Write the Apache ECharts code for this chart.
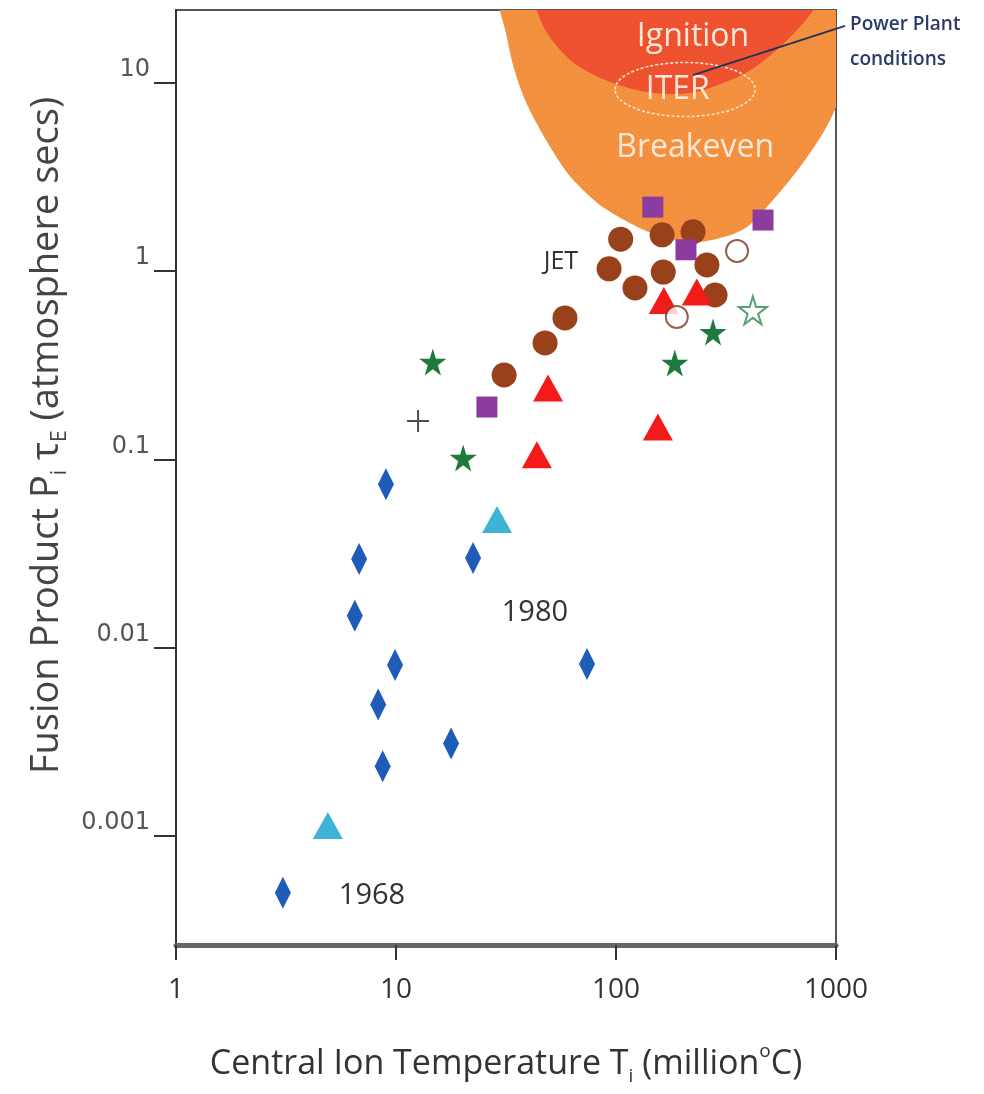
<!DOCTYPE html>
<html><head><meta charset="utf-8">
<script src="https://cdn.jsdelivr.net/npm/echarts@6/dist/echarts.min.js"></script>
<style>html,body{margin:0;padding:0;background:#fff}#c{width:984px;height:1094px}</style>
</head><body><div id="c"></div><script>
// ---- axis ticks ----
const xTicks = [1, 10, 100, 1000];
const xTickLabels = ['1', '10', '100', '1000'];
const yTicks = [0.001, 0.01, 0.1, 1, 10];
const yTickLabels = ['0.001', '0.01', '0.1', '1', '10'];
const yMin = 0.000264, yMax = 24.4;

// ---- data points [T (million C), Pi*tauE (atm s)] ----
const diamonds = [[3.06,0.0005],[9.0,0.074],[6.8,0.0296],[6.5,0.0148],[9.9,0.0081],[8.3,0.0050],[8.7,0.00235],[17.8,0.0031],[22.4,0.030],[73.8,0.0082]];
const cyanTriangles = [[28.8,0.048],[4.9,0.00114]];
const crosses = [[12.6,0.16]];
const stars = [[14.7,0.33],[20.2,0.102],[185,0.326],[276,0.475]];
const openStars = [[419,0.62]];
const circles = [[105,1.48],[162,1.56],[224,1.62],[93,1.03],[164,0.99],[259,1.08],[122,0.815],[282,0.748],[58.6,0.565],[47.6,0.416],[31.0,0.281]];
const redTriangles = [[165,0.70],[233,0.776],[49.1,0.24],[155,0.149],[43.7,0.106]];
const squares = [[147,2.19],[466,1.87],[208,1.30],[25.9,0.19]];
const openCircles = [[355,1.28],[189,0.571]];

// ---- regions (boundary curves) ----
const breakevenBoundary = [[28.0,32],[29.6,24.4],[31.6,18.4],[34.2,12.2],[38.6,8.12],[46.1,5.42],[57.4,3.58],[68.6,2.80],[87.3,2.19],[125,1.72],[164,1.52],[224,1.43],[297,1.50],[394,1.72],[517,2.39],[686,3.58],[873,5.42],[1000,7.4],[1100,9.5]];
const ignitionBoundary = [[39.5,32],[43.5,24.4],[48.6,18.4],[59.9,13.7],[76.2,11.3],[96.9,10.0],[129,9.07],[171,8.74],[217,8.85],[276,9.53],[394,11.4],[517,14.4],[665,19.1],[786,24.4],[860,32]];
const iterCenter = [206, 9.23];
const regionLabels = [['Ignition',224,17.5],['ITER',191,9.19],['Breakeven',229,4.52]];
const textLabels = [['JET',56.2,1.12,25],['1980',42.8,0.0153,29],['1968',7.78,0.00048,29]];
const powerPlantLine = [[224,11.0],[1099,20.1]];

function dotPattern(base, dot){
  const cv=document.createElement('canvas'); cv.width=4; cv.height=4;
  const g=cv.getContext('2d'); g.fillStyle=base; g.fillRect(0,0,4,4);
  g.fillStyle=dot; g.fillRect(1,1,1,1); g.fillRect(3,3,1,1);
  return {image:cv, repeat:'repeat'};
}
const orangeFill = dotPattern('#f5923f', '#e9853b');
const redFill = dotPattern('#f0532f', '#e3462a');

// Catmull-Rom smoothing of already-projected pixel points (rendering only)
function smoothPx(pts, steps){
  const out=[];
  for(let i=0;i<pts.length-1;i++){
    const p0=pts[Math.max(0,i-1)], p1=pts[i], p2=pts[i+1], p3=pts[Math.min(pts.length-1,i+2)];
    for(let s=0;s<steps;s++){
      const t=s/steps, t2=t*t, t3=t2*t;
      out.push([0,1].map(k=>0.5*((2*p1[k])+(-p0[k]+p2[k])*t+(2*p0[k]-5*p1[k]+4*p2[k]-p3[k])*t2+(-p0[k]+3*p1[k]-3*p2[k]+p3[k])*t3)));
    }
  }
  out.push(pts[pts.length-1]);
  return out;
}

const starPath = 'path://M50,0 L61,35 L98,35 L68,57 L79,91 L50,70 L21,91 L32,57 L2,35 L39,35 Z';
const plusPath = 'path://M10,0 L10,20 M0,10 L20,10';

const chart = echarts.init(document.getElementById('c'), null, {renderer:'canvas'});
const FONT = '"Open Sans", "Noto Sans", sans-serif';

function sc(name, data, symbol, size, color, extra){
  return Object.assign({type:'scatter', name, data, symbol, symbolSize:size, z:5,
    itemStyle:{color, opacity:1}, emphasis:{disabled:true}}, extra||{});
}

chart.setOption({
  animation:false,
  backgroundColor:'#fff',
  grid:{left:176, top:10, right:148, bottom:149, show:true, borderColor:'#555', borderWidth:2, backgroundColor:'transparent'},
  xAxis:{type:'log', logBase:10, min:1, max:1000,
    axisLine:{lineStyle:{color:'#666', width:5}},
    axisTick:{show:true, length:15, lineStyle:{color:'#333', width:2}, customValues:xTicks},
    axisLabel:{customValues:xTicks, formatter:v=>{let i=xTicks.findIndex(t=>Math.abs(Math.log10(t)-Math.log10(v))<1e-6);return i>=0?xTickLabels[i]:'';}, fontFamily:FONT, fontSize:28, color:'#333', margin:31},
    splitLine:{show:false}, minorTick:{show:false},
    name:'Central Ion Temperature T{sub|i} (million{sup|o}C)', nameLocation:'middle', nameGap:97,
    nameTextStyle:{fontFamily:FONT, fontSize:34, color:'#333', lineHeight:44,
      rich:{sub:{fontFamily:FONT, fontSize:19, color:'#333', verticalAlign:'bottom', lineHeight:24},
            sup:{fontFamily:FONT, fontSize:19, color:'#333', verticalAlign:'top', lineHeight:26}}}
  },
  yAxis:{type:'log', logBase:10, min:yMin, max:yMax,
    axisLine:{lineStyle:{color:'#333', width:2}},
    axisTick:{show:true, length:22, lineStyle:{color:'#333', width:2}, customValues:yTicks},
    axisLabel:{customValues:yTicks, formatter:v=>{let i=yTicks.findIndex(t=>Math.abs(Math.log10(t)-Math.log10(v))<1e-6);return i>=0?yTickLabels[i]:'';},
      fontFamily:'"DejaVu Sans", Verdana, sans-serif', fontSize:24, color:'#555', margin:26, verticalAlign:'bottom', lineHeight:26},
    splitLine:{show:false}, minorTick:{show:false},
    name:'Fusion Product P{sub|i} τ{sub|E} (atmosphere secs)', nameLocation:'middle', nameGap:104,
    nameTextStyle:{fontFamily:FONT, fontSize:38, color:'#444', lineHeight:46, padding:[0,0,0,84],
      rich:{sub:{fontFamily:FONT, fontSize:21, color:'#444', verticalAlign:'bottom', lineHeight:26}}}
  },
  series:[
    {type:'custom', name:'regions', coordinateSystem:'cartesian2d', clip:true, silent:true, z:1, data:[[10,1]],
      renderItem:(params, api)=>{
        const cs = params.coordSys;
        const outer = smoothPx(breakevenBoundary.map(p=>api.coord(p)), 10);
        const oLast = outer[outer.length-1];
        outer.push([oLast[0], cs.y-30], [outer[0][0], cs.y-30]);
        const inner = smoothPx(ignitionBoundary.map(p=>api.coord(p)), 10);
        inner.push([inner[inner.length-1][0], cs.y-30], [inner[0][0], cs.y-30]);
        const c = api.coord(iterCenter);
        const kids = [
          {type:'polygon', shape:{points:outer}, style:{fill:orangeFill}},
          {type:'polygon', shape:{points:inner}, style:{fill:redFill}},
          {type:'ellipse', shape:{cx:c[0], cy:c[1], rx:70, ry:27}, style:{fill:null, stroke:'#fbe2c8', lineWidth:1.6, lineDash:[3,2]}}
        ];
        regionLabels.forEach(([t,x,y])=>{
          const p = api.coord([x,y]);
          kids.push({type:'text', x:p[0], y:p[1], style:{text:t, fontFamily:FONT, fontSize:32, fill:'#fde8d8', align:'center', verticalAlign:'middle'}});
        });
        return {type:'group', children:kids};
      }},
    {type:'custom', name:'annotations', coordinateSystem:'cartesian2d', clip:false, silent:true, z:6, data:[[10,1]],
      renderItem:(params, api)=>{
        const a = api.coord(powerPlantLine[0]), b = api.coord(powerPlantLine[1]);
        const kids = [
          {type:'line', shape:{x1:a[0], y1:a[1], x2:b[0], y2:b[1]}, style:{stroke:'#22315e', lineWidth:1.8}},
          {type:'text', x:b[0]+5, y:b[1]-1, style:{text:'Power Plant', fontFamily:FONT, fontSize:19, fontWeight:600, fill:'#2b3a68', align:'left', verticalAlign:'middle'}},
          {type:'text', x:b[0]+5, y:b[1]+34, style:{text:'conditions', fontFamily:FONT, fontSize:19, fontWeight:600, fill:'#2b3a68', align:'left', verticalAlign:'middle'}}
        ];
        textLabels.forEach(([t,x,y,fs])=>{
          const p = api.coord([x,y]);
          kids.push({type:'text', x:p[0], y:p[1], style:{text:t, fontFamily:FONT, fontSize:fs, fill:'#333', align:'center', verticalAlign:'middle'}});
        });
        return {type:'group', children:kids};
      }},
    sc('diamonds', diamonds, 'diamond', [16,32], '#1f5cb8'),
    sc('cyanTriangles', cyanTriangles, 'triangle', [30,27], '#3db4d6'),
    sc('crosses', crosses, plusPath, 22, 'none', {itemStyle:{color:'none', borderColor:'#222', borderWidth:2}}),
    sc('stars', stars, starPath, 27, '#1d7a3c'),
    sc('openStars', openStars, starPath, 28, '#fff', {itemStyle:{color:'#fff', borderColor:'#2f8a4c', borderWidth:2}}),
    sc('circles', circles, 'circle', 25, '#98411a'),
    sc('redTriangles', redTriangles, 'triangle', [30,27], '#f31a1a'),
    sc('squares', squares, 'rect', 21, '#8c3b9e'),
    sc('openCircles', openCircles, 'circle', 22, '#fff', {itemStyle:{color:'#fff', borderColor:'#7a3a22', borderWidth:2}})
  ]
});
</script></body></html>
